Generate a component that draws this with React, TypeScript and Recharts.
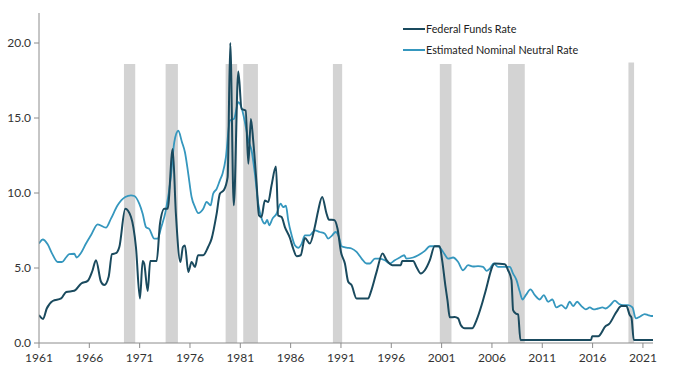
import React from "react";
import { LineChart, Line, XAxis, YAxis, ReferenceArea } from "recharts";

// [year, rate]
const fedFunds: [number, number][] = [
  [1961.0, 1.86], [1961.4, 1.6], [1961.77, 2.3], [1962.36, 2.8], [1963.2, 2.97], [1963.7, 3.4],
  [1964.5, 3.48], [1965.2, 3.97], [1965.84, 4.14], [1966.3, 4.8], [1966.66, 5.52], [1967.16, 4.08],
  [1967.49, 3.86], [1967.92, 4.41], [1968.25, 5.92], [1968.65, 5.99], [1968.98, 6.4], [1969.57, 8.95],
  [1970.14, 8.4], [1970.63, 6.4], [1971.03, 2.97], [1971.3, 5.47], [1971.45, 5.3], [1971.8, 3.46],
  [1972.05, 5.47], [1972.69, 5.47], [1973.02, 7.96], [1973.45, 8.95], [1973.78, 8.95], [1974.28, 12.94],
  [1974.6, 8.62], [1975.05, 5.4], [1975.3, 6.4], [1975.5, 6.5], [1975.83, 4.74], [1976.16, 5.4],
  [1976.5, 5.07], [1976.8, 5.85], [1977.3, 5.85], [1977.8, 6.4], [1978.15, 6.96], [1978.65, 8.62],
  [1978.97, 9.95], [1979.37, 10.2], [1979.74, 11.06], [1980.0, 20.0], [1980.35, 9.18], [1980.8, 18.1],
  [1981.13, 15.6], [1981.53, 15.5], [1981.8, 11.95], [1982.05, 14.94], [1982.28, 13.5], [1982.62, 10.6],
  [1982.85, 8.51], [1983.1, 8.4], [1983.44, 9.5], [1983.77, 9.4], [1984.1, 10.5], [1984.54, 11.77],
  [1984.76, 8.5], [1985.1, 8.4], [1985.43, 7.73], [1985.93, 7.0], [1986.25, 6.3], [1986.6, 5.78],
  [1987.0, 5.85], [1987.42, 7.0], [1987.9, 6.63], [1988.4, 7.73], [1988.74, 8.84], [1989.13, 9.73],
  [1989.57, 8.62], [1989.8, 8.22], [1990.32, 8.2], [1990.66, 7.62], [1991.0, 6.07], [1991.39, 5.3],
  [1991.72, 4.08], [1992.05, 3.86], [1992.55, 2.97], [1993.7, 2.97], [1993.97, 3.41], [1994.54, 4.74],
  [1995.13, 5.96], [1995.53, 5.52], [1996.1, 5.19], [1996.95, 5.19], [1997.08, 5.47], [1998.17, 5.47],
  [1998.5, 5.07], [1998.93, 4.63], [1999.33, 4.85], [1999.83, 5.52], [2000.3, 6.45], [2000.8, 6.45],
  [2001.05, 5.52], [2001.39, 3.74], [2001.58, 2.86], [2001.81, 1.71], [2002.3, 1.73], [2002.64, 1.64],
  [2002.9, 1.2], [2003.3, 0.98], [2004.03, 0.98], [2004.47, 1.53], [2004.96, 2.5], [2005.3, 3.3],
  [2006.28, 5.3], [2007.28, 5.25], [2007.6, 4.85], [2007.94, 4.19], [2008.1, 2.19], [2008.37, 1.97],
  [2008.6, 1.9], [2008.83, 0.2], [2015.85, 0.2], [2015.95, 0.45], [2016.55, 0.45], [2017.3, 1.13],
  [2017.63, 1.26], [2018.37, 2.08], [2018.86, 2.46], [2019.36, 2.46], [2019.69, 1.86], [2019.86, 1.7],
  [2020.09, 0.2], [2022.0, 0.2],
];

// [year, rate]
const neutralRate: [number, number][] = [
  [1961.0, 6.63], [1961.37, 6.9], [1961.86, 6.58], [1962.3, 5.96], [1962.86, 5.4], [1963.28, 5.4],
  [1963.68, 5.7], [1964.0, 5.92], [1964.5, 5.95], [1964.74, 5.7], [1965.17, 6.0], [1965.67, 6.63],
  [1966.16, 7.18], [1966.83, 7.91], [1967.65, 7.69], [1968.15, 8.29], [1968.81, 9.18], [1969.57, 9.73],
  [1970.14, 9.84], [1970.47, 9.8], [1970.96, 9.29], [1971.3, 8.62], [1971.63, 7.73], [1971.96, 7.6],
  [1972.45, 6.96], [1972.8, 6.96], [1973.1, 7.62], [1973.6, 8.84], [1974.1, 11.06], [1974.44, 13.39],
  [1974.84, 14.15], [1975.2, 13.4], [1975.5, 12.72], [1975.83, 11.28], [1976.16, 9.73], [1976.5, 9.06],
  [1976.82, 8.66], [1977.32, 8.95], [1977.65, 9.4], [1978.05, 9.18], [1978.3, 9.95], [1978.65, 10.28],
  [1978.97, 10.84], [1979.24, 11.3], [1979.57, 12.39], [1979.97, 14.83], [1980.37, 14.94], [1980.8, 16.05],
  [1981.13, 15.67], [1981.46, 14.72], [1981.8, 13.5], [1982.12, 12.83], [1982.45, 11.28], [1982.78, 9.29],
  [1983.12, 8.29], [1983.44, 7.96], [1983.67, 8.2], [1983.87, 7.85], [1984.2, 8.29], [1984.6, 8.62],
  [1985.0, 9.29], [1985.26, 9.06], [1985.53, 9.15], [1985.76, 8.18], [1986.1, 7.18], [1986.42, 6.52],
  [1986.75, 6.35], [1987.1, 6.63], [1987.42, 7.18], [1987.9, 7.18], [1988.4, 7.51], [1988.9, 7.4],
  [1989.4, 7.29], [1989.73, 6.96], [1990.13, 7.18], [1990.46, 7.4], [1990.8, 7.07], [1991.06, 6.45],
  [1991.56, 6.36], [1992.05, 6.3], [1992.55, 6.07], [1993.05, 5.63], [1993.54, 5.3], [1993.87, 5.3],
  [1994.37, 5.63], [1994.86, 5.63], [1995.36, 5.52], [1995.86, 5.3], [1996.35, 5.52], [1996.85, 5.7],
  [1997.28, 5.85], [1997.5, 5.63], [1998.17, 5.7], [1998.67, 5.85], [1999.33, 6.14], [1999.83, 6.45],
  [2000.65, 6.45], [2001.15, 6.07], [2001.65, 5.63], [2002.14, 5.7], [2002.64, 5.4], [2003.13, 4.85],
  [2003.63, 5.19], [2004.13, 5.1], [2004.62, 5.13], [2005.12, 5.08], [2005.46, 4.81], [2005.79, 4.96],
  [2006.18, 5.3], [2006.61, 5.07], [2007.28, 5.07], [2007.77, 5.07], [2008.1, 4.63], [2008.44, 4.19],
  [2008.77, 3.41], [2009.03, 2.9], [2009.36, 3.19], [2009.83, 3.57], [2010.26, 3.19], [2010.75, 2.9],
  [2011.15, 3.19], [2011.58, 2.75], [2012.0, 2.9], [2012.4, 2.37], [2012.9, 2.53], [2013.33, 2.3],
  [2013.73, 2.75], [2014.06, 2.46], [2014.46, 2.75], [2014.89, 2.46], [2015.32, 2.24], [2015.72, 2.37],
  [2016.11, 2.24], [2016.54, 2.3], [2016.98, 2.37], [2017.3, 2.3], [2017.77, 2.53], [2018.2, 2.82],
  [2018.63, 2.6], [2019.03, 2.53], [2019.53, 2.53], [2019.96, 2.37], [2020.29, 1.64], [2020.69, 1.75],
  [2021.18, 1.93], [2021.51, 1.86], [2021.85, 1.8], [2022.0, 1.8],
];

// [start, end, top]
const recessions: [number, number, number][] = [
  [1969.44, 1970.56, 18.6],
  [1973.58, 1974.8, 18.6],
  [1979.54, 1980.69, 18.6],
  [1981.29, 1982.75, 18.6],
  [1990.2, 1991.12, 18.6],
  [2000.82, 2001.98, 18.6],
  [2007.6, 2009.26, 18.6],
  [2019.56, 2020.12, 18.7],
];

const xTicks = [1961, 1966, 1971, 1976, 1981, 1986, 1991, 1996, 2001, 2006, 2011, 2016, 2021];
const yTicks = [0, 5, 10, 15, 20];

const FED_COLOR = "#1a4a5e";
const NEUTRAL_COLOR = "#3597be";
const FONT = "Lato, 'Open Sans', sans-serif";

const fedData = fedFunds.map(([year, v]) => ({ year, v }));
const neutralData = neutralRate.map(([year, v]) => ({ year, v }));

export default function App() {
  return (
    <div style={{ position: "absolute", left: 0, top: 0, width: 680, height: 373, background: "#fff", fontFamily: FONT }}>
      <LineChart width={680} height={373} margin={{ top: 13, right: 27, bottom: 0, left: 0 }}>
        <XAxis
          type="number"
          dataKey="year"
          domain={[1961, 2022]}
          ticks={xTicks}
          allowDataOverflow
          height={30}
          tickSize={5}
          tickMargin={5}
          stroke="#8c8c8c"
          tick={{ fill: "#333", fontSize: 12, fontFamily: FONT }}
        />
        <YAxis
          type="number"
          domain={[0, 22]}
          ticks={yTicks}
          width={39}
          tickSize={5}
          tickMargin={3}
          stroke="#8c8c8c"
          tickFormatter={(v: number) => v.toFixed(1)}
          tick={{ fill: "#333", fontSize: 12, fontFamily: FONT }}
        />
        {recessions.map(([a, b, top], i) => (
          <ReferenceArea key={i} x1={a} x2={b} y1={0} y2={top} fill="#d3d3d3" fillOpacity={1} stroke="none" />
        ))}
        <Line
          data={neutralData}
          dataKey="v"
          type="monotone"
          stroke={NEUTRAL_COLOR}
          strokeWidth={1.8}
          dot={false}
          isAnimationActive={false}
        />
        <Line
          data={fedData}
          dataKey="v"
          type="monotone"
          stroke={FED_COLOR}
          strokeWidth={2}
          dot={false}
          isAnimationActive={false}
        />
      </LineChart>
      <div style={{ position: "absolute", left: 403, top: 20, fontSize: 10.8, color: "#222", lineHeight: "18px" }}>
        <div style={{ display: "flex", alignItems: "center", height: 18 }}>
          <span style={{ display: "inline-block", width: 22, height: 2, background: FED_COLOR, marginRight: 1 }} />
          <span>Federal Funds Rate</span>
        </div>
        <div style={{ display: "flex", alignItems: "center", height: 18, marginTop: 3 }}>
          <span style={{ display: "inline-block", width: 22, height: 2, background: NEUTRAL_COLOR, marginRight: 1 }} />
          <span>Estimated Nominal Neutral Rate</span>
        </div>
      </div>
    </div>
  );
}
